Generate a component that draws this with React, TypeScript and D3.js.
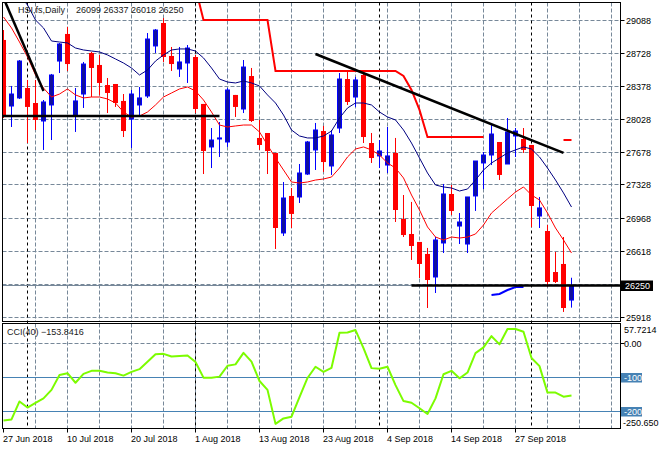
import React from "react";
import * as d3 from "d3";

const dates = ["2018-06-27","2018-06-28","2018-06-29","2018-07-03","2018-07-04","2018-07-05","2018-07-06","2018-07-09","2018-07-10","2018-07-11","2018-07-12","2018-07-13","2018-07-16","2018-07-17","2018-07-18","2018-07-19","2018-07-20","2018-07-23","2018-07-24","2018-07-25","2018-07-26","2018-07-27","2018-07-30","2018-07-31","2018-08-01","2018-08-02","2018-08-03","2018-08-06","2018-08-07","2018-08-08","2018-08-09","2018-08-10","2018-08-13","2018-08-14","2018-08-15","2018-08-16","2018-08-17","2018-08-20","2018-08-21","2018-08-22","2018-08-23","2018-08-24","2018-08-27","2018-08-28","2018-08-29","2018-08-30","2018-08-31","2018-09-03","2018-09-04","2018-09-05","2018-09-06","2018-09-07","2018-09-10","2018-09-11","2018-09-12","2018-09-13","2018-09-14","2018-09-17","2018-09-18","2018-09-19","2018-09-20","2018-09-21","2018-09-24","2018-09-26","2018-09-27","2018-09-28","2018-10-02","2018-10-03","2018-10-04","2018-10-05","2018-10-08","2018-10-09"];

const open = [28875,28170,28256,28362,28202,28010,28181,28650,28939,28063,28298,28736,28608,28394,28405,28224,28031,28181,28277,28811,29056,28704,28565,28629,28693,28192,27733,27818,27786,28288,28138,28490,27829,27882,27669,26815,27210,27199,27444,27701,27903,27530,27935,28458,28266,28501,27775,27637,27540,27669,26964,26804,26719,26591,26345,26708,27231,26889,26697,27210,27562,27647,27786,27551,27850,27818,27754,26996,26836,26398,26484,26099];
const high = [28981,28384,28661,28448,28448,28234,28512,28843,29013,28362,28640,28747,28715,28469,28405,28298,28341,28373,28949,28992,29109,28800,28800,28821,28715,28192,27935,27999,28362,28288,28661,28576,28021,27882,27669,27359,27295,27551,27797,27989,27957,27914,28522,28533,28480,28533,27882,27807,27946,27829,27220,27146,26719,26655,26772,27338,27327,27028,27199,27583,27679,27967,27786,28042,27935,27935,27754,27199,26900,26612,26772,26337];
const low = [28042,27946,28245,27775,27914,27701,27807,28522,28544,27893,28149,28266,28288,28095,28160,27839,27722,28053,28256,28736,28640,28544,28480,28416,28095,27444,27508,27626,27733,28053,28095,27999,27701,27444,26644,26783,26868,27135,27434,27487,27466,27434,27882,28181,28160,27775,27562,27508,27455,26932,26772,26527,26334,26014,26174,26601,27007,26697,26601,27050,27284,27540,27380,27551,27626,27669,26879,26868,26238,26281,25972,26018];
const close = [28074,28298,28650,28160,28021,28213,28501,28832,28618,28224,28618,28576,28416,28309,28202,27903,28298,28256,28885,28981,28693,28618,28640,28789,28138,27690,27807,27829,28341,28160,28586,28010,27754,27690,26868,27188,27018,27455,27786,27914,27572,27861,28458,28213,28448,27839,27615,27690,27637,27060,26793,26676,26484,26313,26740,27231,27050,26932,27199,27583,27647,27871,27434,27893,27903,27701,27103,27082,26292,26292,26014,26250];

const maBlue = [29568,29462,29355,29248,29088,29003,28864,28853,28843,28789,28768,28757,28747,28715,28672,28629,28576,28501,28554,28650,28715,28768,28779,28779,28757,28683,28576,28458,28426,28416,28437,28416,28384,28288,28202,28074,27914,27850,27829,27829,27850,27903,28042,28149,28202,28202,28181,28106,28053,28021,27914,27775,27615,27455,27327,27306,27295,27263,27284,27380,27487,27562,27615,27669,27701,27733,27711,27626,27508,27380,27242,27092];
const maRed = [29120,29003,28853,28693,28501,28362,28266,28298,28352,28288,28256,28266,28266,28245,28202,28106,28053,28063,28106,28181,28266,28309,28352,28373,28330,28234,28106,27967,27946,27957,27967,27967,27893,27754,27615,27487,27359,27348,27359,27380,27391,27412,27508,27626,27711,27733,27701,27647,27562,27508,27402,27220,27060,26879,26772,26740,26772,26761,26772,26804,26900,27028,27103,27178,27252,27306,27220,27167,27028,26868,26740,26601];

const N = null;
const resistance = [N,N,N,N,N,N,N,N,N,N,N,N,N,N,N,N,N,N,N,N,N,N,N,N,29430,29088,29088,29088,29088,29088,29088,29088,29088,29088,28544,28544,28544,28544,28544,28544,28544,28544,28544,28544,28544,28544,28544,28544,28544,28544,28490,28341,28128,27839,27839,27839,27839,27839,27839,27839,27839,N,N,N,N,N,N,N,N,N,27807,27807];
const support = [N,N,N,N,N,N,N,N,N,N,N,N,N,N,N,N,N,N,N,N,N,N,N,N,N,N,N,N,N,N,N,N,N,N,N,N,N,N,N,N,N,N,N,N,N,N,N,N,N,N,N,N,N,N,N,N,N,N,N,N,N,26153,26164,26206,26238,26238,N,N,N,N,N,N];

const cci = [-227,-224,-171,-189,-175,-162,-137,-93,-88,-116,-90,-81,-81,-86,-88,-95,-84,-76,-54,-32,-31,-39,-37,-36,-55,-101,-101,-98,-66,-62,-28,-54,-111,-137,-237,-221,-216,-158,-102,-69,-84,-72,31,32,39,-14,-73,-75,-69,-123,-170,-175,-191,-208,-162,-91,-81,-103,-86,-29,-12,21,-3,42,42,34,-43,-67,-145,-145,-157,-153.8416];

const trendFromIdx = [0, -1, 39, 51];
const trendFromPrice = [29323, 28063, 28725, 26255];
const trendToIdx = [5, 27, 70, 80];
const trendToPrice = [28330, 28063, 27669, 26255];

const priceGrid = [29088, 28728, 28378, 28028, 27678, 27328, 26968, 26618, 26268, 25918];
const priceLabels = ["29088", "28728", "28378", "28028", "27678", "27328", "26968", "26618", "", "25918"];
const bidPrice = 26250;
const cciLevels = [-100, -200];
const cciMax = 57.7214;
const cciMin = -250.65;
const cciPeriod = 40;

const FONT = "'Liberation Sans', Arial, sans-serif";

export default function App() {
  const left = 2.5, right = 620.5;
  const mainTop = 2.5, mainBottom = 321.5;
  const cciTop = 323.5, cciBottom = 428.5;

  const x = d3.scaleLinear().domain([0, 71]).range([3.5, 571.5]);
  const y = d3.scaleLinear().domain([25918, 29088]).range([317, 20]);
  const yc = d3.scaleLinear().domain([cciMin, cciMax]).range([428.5, 323.7]);

  const parse = d3.timeParse("%Y-%m-%d");
  const fmt = d3.timeFormat("%-d %b %Y");
  const dd = dates.map((s) => parse(s) as Date);

  const separators = dd
    .map((d, i) => (i > 0 && d.getMonth() !== dd[i - 1].getMonth() ? i : -1))
    .filter((i) => i >= 0);
  const vGrid = d3.range(4, 77, 4);
  const labelIdx = d3.range(0, dates.length, 8);

  const lineP = d3
    .line<number | null>()
    .defined((d) => d !== null)
    .x((_, i) => x(i))
    .y((d) => y(d as number));
  const lineC = d3
    .line<number>()
    .x((_, i) => x(i))
    .y((d) => yc(d));

  const crisp = (v: number) => Math.round(v - 0.5) + 0.5;
  const last = dates.length - 1;
  const fmtCci = d3.format(".4f");

  return (
    <svg
      width={660}
      height={450}
      style={{ position: "fixed", left: 0, top: 0, background: "#fff" }}
      fontFamily={FONT}
      fontSize={9}
    >
      <defs>
        <clipPath id="mainClip">
          <rect x={left} y={mainTop} width={right - left} height={mainBottom - mainTop} />
        </clipPath>
        <clipPath id="cciClip">
          <rect x={left} y={cciTop} width={right - left} height={cciBottom - cciTop} />
        </clipPath>
      </defs>
      <rect width={660} height={450} fill="#fff" />

      {/* main grid */}
      <g stroke="#778899" strokeDasharray="4,2" strokeWidth={1}>
        {priceGrid.map((p, k) => (
          <line key={"hg" + k} x1={left} x2={right} y1={crisp(y(p))} y2={crisp(y(p))} />
        ))}
        {vGrid.map((i) => (
          <line key={"vg" + i} x1={x(i)} x2={x(i)} y1={mainTop} y2={mainBottom} />
        ))}
        {vGrid.map((i) => (
          <line key={"vc" + i} x1={x(i)} x2={x(i)} y1={cciTop} y2={cciBottom} />
        ))}
        <line x1={left} x2={right} y1={crisp(yc(0))} y2={crisp(yc(0))} />
      </g>

      {/* period separators */}
      <g stroke="#000" strokeDasharray="3,3" strokeWidth={1}>
        {separators.map((i) => (
          <line key={"sep" + i} x1={x(i)} x2={x(i)} y1={mainTop} y2={cciBottom} />
        ))}
      </g>

      {/* bid line */}
      <line x1={left} x2={right} y1={crisp(y(bidPrice))} y2={crisp(y(bidPrice))} stroke="#778899" strokeWidth={1} />

      <g clipPath="url(#mainClip)">
        {/* candles */}
        {dates.map((_, i) => {
          const bull = close[i] >= open[i];
          const cx = x(i);
          const yo = y(open[i]);
          const yC = y(close[i]);
          const top = Math.min(yo, yC);
          const h = Math.max(1, Math.abs(yo - yC));
          return (
            <g key={"c" + i}>
              <line x1={cx} x2={cx} y1={y(high[i])} y2={y(low[i])} stroke={bull ? "#0000ff" : "#ff0000"} strokeWidth={1} />
              {bull ? (
                <rect x={cx - 2} y={top} width={4} height={h} fill="#10109c" stroke="#0000ff" strokeWidth={1} />
              ) : (
                <rect x={cx - 2.5} y={top} width={5} height={h} fill="#ff0000" />
              )}
            </g>
          );
        })}

        {/* moving averages */}
        <path d={lineP(maBlue) || ""} fill="none" stroke="#000080" strokeWidth={1} />
        <path d={lineP(maRed) || ""} fill="none" stroke="#ff0000" strokeWidth={1} />

        {/* resistance / support levels */}
        <path d={lineP(resistance) || ""} fill="none" stroke="#ff0000" strokeWidth={2} />
        <path d={lineP(support) || ""} fill="none" stroke="#0000ff" strokeWidth={2} />

        {/* trend lines */}
        {trendFromIdx.map((fi, k) => (
          <line
            key={"tl" + k}
            x1={x(fi)}
            y1={y(trendFromPrice[k])}
            x2={x(trendToIdx[k])}
            y2={y(trendToPrice[k])}
            stroke="#000"
            strokeWidth={2.5}
          />
        ))}
      </g>

      {/* CCI */}
      <g clipPath="url(#cciClip)">
        {cciLevels.map((lv) => (
          <line key={"lv" + lv} x1={left} x2={right} y1={crisp(yc(lv))} y2={crisp(yc(lv))} stroke="#4682b4" strokeWidth={1} />
        ))}
        <path d={lineC(cci) || ""} fill="none" stroke="#7cfc00" strokeWidth={2} strokeLinejoin="round" />
      </g>

      {/* frames */}
      <g stroke="#000" strokeWidth={1} fill="none">
        <rect x={left} y={mainTop} width={right - left} height={mainBottom - mainTop} />
        <rect x={left} y={cciTop} width={right - left} height={cciBottom - cciTop} />
      </g>

      {/* title */}
      <text x={18} y={13} fill="#1a1a1a">HSI,fs,Daily</text>
      <text x={76} y={13} fill="#1a1a1a">
        {[open[last], high[last], low[last], close[last]].join(" ")}
      </text>
      <text x={7} y={335} fill="#1a1a1a">{`CCI(${cciPeriod}) ${fmtCci(cci[last])}`}</text>

      {/* price axis */}
      {priceGrid.map((p, k) => {
        const yy = crisp(y(p));
        const isLast = k === priceGrid.length - 1;
        return (
          <g key={"pl" + k}>
            <line x1={right} x2={right + 4} y1={yy} y2={yy} stroke="#000" />
            {priceLabels[k] && (
              <text x={626} y={isLast ? 320.5 : yy + 3.5} fill="#000">{priceLabels[k]}</text>
            )}
          </g>
        );
      })}
      <rect x={621} y={crisp(y(bidPrice)) - 5} width={32} height={10.5} fill="#000" />
      <text x={625} y={crisp(y(bidPrice)) + 3.5} fill="#fff">{bidPrice}</text>

      {/* CCI axis */}
      <line x1={right} x2={right + 4} y1={crisp(yc(0))} y2={crisp(yc(0))} stroke="#000" />
      <text x={624} y={333} fill="#000">{cciMax.toFixed(4)}</text>
      <text x={624} y={crisp(yc(0)) + 3.5} fill="#000">{(0).toFixed(2)}</text>
      {cciLevels.map((lv) => {
        const yy = crisp(yc(lv));
        return (
          <g key={"ll" + lv}>
            <rect x={621} y={yy - 4.5} width={21} height={9.5} fill="#4682b4" />
            <text x={624} y={yy + 3.5} fill="#fff">{lv}</text>
          </g>
        );
      })}
      <text x={623} y={425.5} fill="#000">{cciMin.toFixed(3)}</text>

      {/* time axis */}
      {labelIdx.map((i) => (
        <g key={"tx" + i}>
          <line x1={x(i)} x2={x(i)} y1={cciBottom} y2={cciBottom + 4} stroke="#000" />
          <text x={x(i) - 0.5} y={442} fill="#000">{fmt(dd[i])}</text>
        </g>
      ))}
    </svg>
  );
}
